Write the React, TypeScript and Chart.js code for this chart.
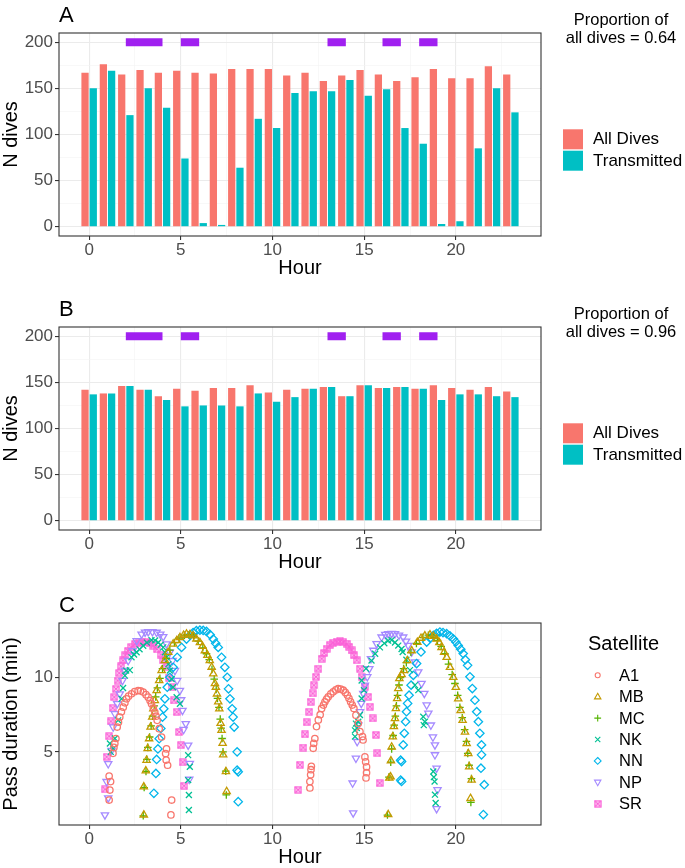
import React, { useEffect, useRef } from "react";
import { Chart, registerables } from "chart.js";

Chart.register(...registerables);

const FONT = "'Liberation Sans', Arial, Helvetica, sans-serif";

// ---------- Panels A & B: dives per hour ----------
const hours = [0, 1, 2, 3, 4, 5, 6, 7, 8, 9, 10, 11, 12, 13, 14, 15, 16, 17, 18, 19, 20, 21, 22, 23];
const allDivesA = [167, 176, 165, 170, 167, 169, 167, 166, 171, 171, 171, 164, 167, 158, 164, 170, 165, 158, 162, 171, 161, 161, 174, 165];
const transmittedA = [150, 169, 121, 150, 129, 74, 4, 2, 64, 117, 107, 145, 147, 147, 159, 142, 149, 107, 90, 3, 6, 85, 150, 124];
const allDivesB = [142, 138, 146, 142, 135, 143, 141, 144, 144, 147, 139, 142, 143, 145, 135, 147, 144, 145, 143, 147, 144, 142, 145, 140];
const transmittedB = [137, 138, 146, 142, 131, 124, 125, 125, 124, 138, 129, 134, 143, 145, 135, 147, 144, 145, 143, 131, 137, 137, 135, 134];
const proportionA = "0.64";
const proportionB = "0.96";
// purple periods drawn at the top of panels A and B
const periodStarts = [2, 5, 13, 16, 18];
const periodEnds = [4, 6, 14, 17, 19];
const periodLevel = 200;

// ---------- Panel C: satellite passes [hour, minutes] ----------
const a1Passes = [
  [1.09, 1.76], [1.13, 2.43], [1.17, 3.0], [1.09, 3.37], [1.3, 4.9], [1.35, 5.3], [1.4, 5.56], [1.46, 5.9], [1.53, 6.67], [1.6, 7.0],
  [1.67, 7.34], [1.76, 7.7], [1.86, 8.01], [1.95, 8.3], [2.04, 8.57], [2.15, 8.75], [2.31, 8.91], [2.48, 9.05], [2.67, 9.13], [2.8, 9.1],
  [2.95, 9.02], [3.1, 8.85], [3.22, 8.68], [3.32, 8.45], [3.4, 8.24], [3.5, 7.95], [3.58, 7.68], [3.65, 7.4], [3.71, 7.12], [3.82, 6.56],
  [3.95, 6.0], [4.17, 4.89], [4.2, 4.45], [4.28, 4.1], [4.22, 5.2], [4.5, 1.76], [4.46, 0.76],
  [12.04, 2.57], [12.04, 3.0], [12.08, 3.46], [12.1, 3.8], [12.12, 4.03], [12.22, 5.24], [12.25, 5.57], [12.31, 5.9], [12.4, 6.7], [12.5, 7.15],
  [12.6, 7.5], [12.68, 7.92], [12.78, 8.15], [12.86, 8.37], [12.95, 8.55], [13.04, 8.7], [13.18, 8.9], [13.31, 9.04], [13.45, 9.17], [13.58, 9.26],
  [13.72, 9.22], [13.86, 9.15], [13.97, 9.0], [14.08, 8.82], [14.17, 8.6], [14.26, 8.37], [14.35, 8.15], [14.44, 7.92], [14.55, 7.47], [14.68, 6.92],
  [14.77, 6.36], [14.91, 6.03], [14.94, 5.8], [15.04, 4.66], [15.08, 4.33], [15.13, 3.99], [15.13, 3.6], [15.1, 3.25],
];
const mbPasses = [
  [2.98, 0.76], [2.98, 2.65], [3.09, 3.73], [3.13, 4.44], [3.19, 5.22], [3.27, 5.89], [3.35, 6.67], [3.44, 7.34], [3.5, 7.9], [3.58, 8.46],
  [3.68, 9.13], [3.82, 9.8], [3.95, 10.47], [4.13, 11.14], [4.31, 11.7], [4.58, 12.26], [4.78, 12.5], [4.95, 12.7], [5.15, 12.85], [5.31, 12.93],
  [5.5, 12.9], [5.67, 12.81], [5.85, 12.6], [6.04, 12.36], [6.18, 12.1], [6.31, 11.81], [6.45, 11.5], [6.58, 11.14], [6.68, 10.7], [6.77, 10.25],
  [6.86, 9.6], [6.91, 9.35], [6.97, 8.9], [7.04, 8.37], [7.1, 7.9], [7.17, 6.92], [7.22, 6.45], [7.28, 5.58], [7.31, 4.8], [7.46, 3.68], [7.5, 2.34],
  [16.31, 0.78], [16.37, 3.24], [16.44, 3.32], [16.46, 4.4], [16.5, 5.33], [16.56, 6.02], [16.62, 6.7], [16.68, 7.25], [16.73, 7.92], [16.8, 8.59],
  [16.86, 9.26], [16.92, 9.93], [17.04, 10.2], [17.17, 10.47], [17.35, 11.14], [17.59, 11.81], [17.9, 12.37], [18.1, 12.65], [18.31, 12.81], [18.59, 12.88],
  [18.78, 12.78], [18.95, 12.59], [19.1, 12.35], [19.22, 12.03], [19.36, 11.7], [19.5, 11.36], [19.68, 10.69], [19.86, 10.02], [20.0, 9.35], [20.13, 8.57],
  [20.26, 7.79], [20.37, 7.12], [20.5, 6.34], [20.59, 5.56], [20.68, 4.89], [20.73, 4.0], [20.86, 3.1], [20.8, 1.87],
];
const mcPasses = [
  [2.95, 0.7], [3.0, 2.6], [3.1, 3.68], [3.15, 4.5], [3.2, 5.3], [3.3, 6.0], [3.38, 6.75], [3.46, 7.4], [3.55, 8.1], [3.63, 8.7],
  [3.72, 9.3], [3.86, 9.95], [4.0, 10.6], [4.2, 11.3], [4.4, 11.85], [4.65, 12.35], [4.9, 12.65], [5.2, 12.85], [5.45, 12.88], [5.7, 12.75],
  [5.95, 12.45], [6.2, 12.0], [6.4, 11.6], [6.55, 11.2], [6.7, 10.55], [6.82, 9.9], [6.93, 9.2], [7.0, 8.6], [7.08, 8.0], [7.15, 7.2],
  [7.2, 6.6], [7.25, 5.9], [7.3, 5.0], [7.45, 3.7], [7.48, 2.1],
  [16.27, 0.75], [16.35, 3.3], [16.45, 4.3], [16.5, 5.2], [16.58, 6.1], [16.64, 6.8], [16.7, 7.4], [16.76, 8.1], [16.82, 8.8], [16.9, 9.5],
  [16.98, 10.0], [17.15, 10.6], [17.3, 11.0], [17.55, 11.7], [17.85, 12.3], [18.2, 12.7], [18.5, 12.85], [18.8, 12.7], [19.0, 12.5], [19.2, 12.1],
  [19.4, 11.6], [19.6, 10.9], [19.8, 10.2], [19.95, 9.6], [20.1, 8.8], [20.22, 8.0], [20.35, 7.3], [20.48, 6.5], [20.58, 5.7], [20.65, 4.9],
  [20.72, 4.1], [20.85, 3.2], [20.82, 1.6],
];
const nkPasses = [
  [1.13, 5.56], [1.18, 5.0], [1.31, 5.22], [1.4, 5.9], [1.58, 7.12], [1.77, 8.57], [1.85, 9.3], [1.95, 10.13], [2.02, 10.47], [2.22, 10.5],
  [2.31, 11.36], [2.45, 11.55], [2.59, 11.7], [2.75, 11.9], [2.95, 12.14], [3.15, 12.35], [3.4, 12.52], [3.6, 12.5], [3.77, 12.36], [3.9, 12.2],
  [4.04, 12.03], [4.13, 11.7], [4.22, 11.36], [4.32, 10.9], [4.4, 10.47], [4.5, 9.9], [4.58, 9.35], [4.77, 8.68], [4.95, 8.24],
  [5.4, 4.78], [5.49, 4.0], [5.4, 3.1], [5.44, 2.1], [5.44, 1.09],
  [14.5, 6.03], [14.5, 6.45], [14.55, 6.9], [14.6, 6.6], [14.68, 7.03], [14.77, 7.48], [14.86, 8.59], [14.86, 9.8], [14.99, 9.15], [15.1, 10.6],
  [15.4, 11.14], [15.6, 11.6], [15.86, 12.03], [16.1, 12.3], [16.31, 12.48], [16.5, 12.52], [16.68, 12.36], [16.86, 12.15], [17.04, 11.92], [17.1, 11.72],
  [17.3, 11.2], [17.5, 10.5], [17.77, 9.49], [17.95, 9.15], [18.22, 7.37], [18.31, 7.03], [18.25, 6.8], [18.77, 3.68], [18.84, 3.0], [18.86, 2.12],
  [18.9, 1.56], [18.8, 3.3],
];
const nnPasses = [
  [3.53, 2.21], [3.64, 3.55], [3.68, 4.49], [3.75, 5.2], [3.82, 5.89], [3.91, 6.58], [4.0, 7.34], [4.07, 7.9], [4.13, 8.57], [4.26, 9.35],
  [4.4, 10.02], [4.58, 10.69], [4.8, 11.36], [5.04, 12.03], [5.31, 12.59], [5.5, 12.85], [5.67, 13.03], [5.85, 13.15], [6.04, 13.19], [6.22, 13.17],
  [6.4, 13.1], [6.6, 12.88], [6.77, 12.59], [6.9, 12.3], [7.04, 12.03], [7.22, 11.36], [7.4, 10.69], [7.53, 10.02], [7.6, 9.24], [7.68, 8.57],
  [7.8, 7.9], [7.85, 7.34], [7.91, 6.67], [8.07, 5.0], [8.07, 3.77], [8.13, 3.66], [8.13, 1.65],
  [16.99, 3.1], [17.04, 3.01], [16.99, 4.44], [17.04, 4.35], [17.13, 5.47], [17.19, 6.25], [17.26, 7.03], [17.31, 7.7], [17.37, 8.26], [17.45, 8.81],
  [17.56, 9.49], [17.68, 10.15], [17.86, 10.94], [18.1, 11.72], [18.41, 12.39], [18.6, 12.65], [18.77, 12.83], [18.95, 12.98], [19.13, 13.06], [19.3, 13.03],
  [19.5, 12.95], [19.68, 12.8], [19.86, 12.61], [20.0, 12.4], [20.13, 12.16], [20.27, 11.9], [20.4, 11.61], [20.52, 11.2], [20.64, 10.82], [20.77, 10.05],
  [20.9, 9.26], [21.04, 8.48], [21.14, 7.7], [21.23, 7.03], [21.31, 6.25], [21.4, 5.47], [21.4, 4.8], [21.37, 3.9], [21.55, 2.79], [21.5, 0.78],
];
const npPasses = [
  [0.86, 0.76], [0.95, 3.0], [1.04, 1.9], [1.04, 4.2], [1.22, 5.1], [1.31, 6.67], [1.4, 7.56], [1.53, 8.24], [1.67, 8.9], [1.82, 9.8],
  [1.95, 10.47], [2.13, 11.14], [2.37, 11.81], [2.59, 12.48], [2.86, 12.92], [3.05, 13.05], [3.22, 13.08], [3.45, 13.08], [3.68, 13.04], [3.88, 12.92],
  [4.04, 12.75], [4.22, 12.26], [4.4, 11.7], [4.55, 11.14], [4.68, 10.47], [4.8, 9.8], [4.95, 9.13], [5.02, 8.5], [5.09, 7.79], [5.15, 6.5],
  [5.27, 6.9], [5.4, 5.45], [5.49, 4.22], [5.46, 3.15],
  [14.4, 0.89], [14.37, 2.9], [14.55, 4.57], [14.62, 5.69], [14.68, 6.8], [14.77, 7.7], [14.84, 8.26], [14.95, 8.93], [15.04, 9.49], [15.17, 10.05],
  [15.28, 10.6], [15.37, 11.27], [15.5, 11.83], [15.68, 12.28], [15.95, 12.72], [16.15, 12.9], [16.31, 12.95], [16.5, 12.97], [16.68, 12.95], [16.9, 12.85],
  [17.13, 12.72], [17.28, 12.45], [17.4, 12.16], [17.59, 11.72], [17.77, 11.05], [17.95, 10.38], [18.13, 9.6], [18.28, 8.93], [18.41, 8.15], [18.5, 7.6],
  [18.64, 6.8], [18.75, 6.0], [18.86, 5.47], [18.86, 4.8], [18.95, 3.9], [19.0, 2.45], [18.95, 1.18],
];
const srPasses = [
  [0.87, 2.48], [0.95, 4.66], [1.09, 6.05], [1.18, 7.05], [1.28, 7.95], [1.37, 8.68], [1.46, 9.24], [1.55, 9.8], [1.64, 10.3], [1.73, 10.75],
  [1.84, 11.15], [1.97, 11.5], [2.12, 11.8], [2.3, 12.05], [2.5, 12.25], [2.7, 12.35], [2.9, 12.38], [3.1, 12.36], [3.3, 12.3], [3.5, 12.15],
  [3.7, 11.9], [3.9, 11.55], [4.05, 11.15], [4.22, 10.7], [4.35, 10.0], [4.5, 9.35], [4.62, 8.46], [4.77, 7.68], [4.91, 6.34], [5.0, 5.45],
  [5.1, 4.3], [5.18, 2.72],
  [11.4, 2.45], [11.5, 4.13], [11.68, 5.29], [11.77, 6.18], [11.86, 6.99], [12.0, 7.7], [12.08, 8.37], [12.19, 8.93], [12.26, 9.48], [12.37, 10.05],
  [12.5, 10.6], [12.68, 11.27], [12.82, 11.65], [12.95, 11.94], [13.12, 12.18], [13.31, 12.34], [13.5, 12.42], [13.68, 12.43], [13.86, 12.38], [14.04, 12.28],
  [14.18, 12.08], [14.31, 11.83], [14.45, 11.5], [14.59, 11.16], [14.77, 10.6], [14.86, 10.05], [15.04, 9.38], [15.22, 8.7], [15.31, 8.04], [15.46, 7.25],
  [15.64, 6.14], [15.72, 4.91], [15.84, 2.9],
];
const satelliteNames = ["A1", "MB", "MC", "NK", "NN", "NP", "SR"];
const satelliteColors = ["#F8766D", "#C49A00", "#53B400", "#00C094", "#00B6EB", "#A58AFF", "#FB61D7"];
const satellitePasses = [a1Passes, mbPasses, mcPasses, nkPasses, nnPasses, npPasses, srPasses];

// ---------- axis ticks ----------
const xTickValues = [0, 2.5, 5, 7.5, 10, 12.5, 15, 17.5, 20, 22.5];
const xTickLabels = ["0", "", "5", "", "10", "", "15", "", "20", ""];
const barTickValues = [0, 25, 50, 75, 100, 125, 150, 175, 200];
const barTickLabels = ["0", "", "50", "", "100", "", "150", "", "200"];
const passTickValues = [2.5, 5, 7.5, 10, 12.5];
const passTickLabels = ["", "5", "", "10", ""];

const X_MIN = -1.645;
const X_MAX = 24.645;

function makeScale(axis: string, min: number, max: number, values: number[], labels: string[], title: string, fit: number) {
  const labelOf = (v: number) => {
    const i = values.indexOf(v);
    return i >= 0 ? labels[i] : "";
  };
  return {
    type: "linear",
    min,
    max,
    offset: false,
    afterBuildTicks: (s: any) => {
      s.ticks = values.map((v) => ({ value: v }));
    },
    afterFit: (s: any) => {
      if (axis === "x") s.height = fit;
      else s.width = fit;
    },
    ticks: {
      autoSkip: false,
      maxRotation: 0,
      minRotation: 0,
      padding: axis === "x" ? 0 : 2,
      color: "#4D4D4D",
      font: { family: FONT, size: 17 },
      callback: (v: any) => labelOf(Number(v)),
    },
    grid: {
      offset: false,
      color: (c: any) => (labelOf(c.tick?.value) ? "#EBEBEB" : "#F4F4F4"),
      lineWidth: (c: any) => (labelOf(c.tick?.value) ? 1.1 : 0.6),
      tickColor: (c: any) => (labelOf(c.tick?.value) ? "#333333" : "rgba(0,0,0,0)"),
      tickWidth: 1.1,
      tickLength: 4,
      drawTicks: true,
    },
    border: { display: false },
    title: {
      display: true,
      text: title,
      color: "#000000",
      font: { family: FONT, size: 20, lineHeight: 1 },
      padding: axis === "x" ? { top: 0, bottom: 1 } : { top: 1, bottom: 0 },
    },
  };
}

function makeSquareCross(color: string) {
  const c = document.createElement("canvas");
  c.width = 8;
  c.height = 8;
  const g = c.getContext("2d")!;
  g.strokeStyle = color;
  g.lineWidth = 1.3;
  g.strokeRect(1, 1, 6, 6);
  g.beginPath();
  g.moveTo(1, 1);
  g.lineTo(7, 7);
  g.moveTo(7, 1);
  g.lineTo(1, 7);
  g.stroke();
  return c;
}

function drawSymbol(ctx: CanvasRenderingContext2D, idx: number, x: number, y: number, color: string, img: HTMLCanvasElement) {
  ctx.save();
  ctx.strokeStyle = color;
  ctx.lineWidth = 1.1;
  ctx.beginPath();
  if (idx === 0) {
    ctx.arc(x, y, 2.5, 0, Math.PI * 2);
  } else if (idx === 1) {
    ctx.moveTo(x, y - 3.4);
    ctx.lineTo(x + 3.2, y + 2.2);
    ctx.lineTo(x - 3.2, y + 2.2);
    ctx.closePath();
  } else if (idx === 2) {
    ctx.moveTo(x - 3.4, y);
    ctx.lineTo(x + 3.4, y);
    ctx.moveTo(x, y - 3.4);
    ctx.lineTo(x, y + 3.4);
  } else if (idx === 3) {
    ctx.moveTo(x - 2.6, y - 2.6);
    ctx.lineTo(x + 2.6, y + 2.6);
    ctx.moveTo(x + 2.6, y - 2.6);
    ctx.lineTo(x - 2.6, y + 2.6);
  } else if (idx === 4) {
    ctx.moveTo(x, y - 3.4);
    ctx.lineTo(x + 3.4, y);
    ctx.lineTo(x, y + 3.4);
    ctx.lineTo(x - 3.4, y);
    ctx.closePath();
  } else if (idx === 5) {
    ctx.moveTo(x, y + 3.4);
    ctx.lineTo(x + 3.2, y - 2.2);
    ctx.lineTo(x - 3.2, y - 2.2);
    ctx.closePath();
  } else {
    ctx.drawImage(img, x - 4, y - 4);
  }
  ctx.stroke();
  ctx.restore();
}

function decorPlugin(letter: string, kind: string, proportion: string, img?: HTMLCanvasElement) {
  return {
    id: "decor" + letter,
    afterDatasetsDraw(chart: any) {
      const { ctx, chartArea: a } = chart;
      ctx.save();
      // panel border
      ctx.strokeStyle = "#333333";
      ctx.lineWidth = 1.1;
      ctx.strokeRect(a.left, a.top, a.right - a.left, a.bottom - a.top);
      // panel letter
      ctx.fillStyle = "#000000";
      ctx.font = `22px ${FONT}`;
      ctx.textAlign = "left";
      ctx.textBaseline = "alphabetic";
      ctx.fillText(letter, a.left, a.top - 11.5);
      if (kind === "bars") {
        ctx.font = `16.5px ${FONT}`;
        ctx.textAlign = "center";
        ctx.textBaseline = "middle";
        ctx.fillText("Proportion of", 621, a.top - 12.3);
        ctx.fillText("all dives = " + proportion, 621, a.top + 5.4);
        const keys = [
          ["All Dives", "#F8766D"],
          ["Transmitted", "#00BFC4"],
        ];
        ctx.font = `17px ${FONT}`;
        ctx.textAlign = "left";
        keys.forEach(([label, color], i) => {
          const ky = a.top + 96.3 + i * 21.4;
          ctx.fillStyle = color;
          ctx.fillRect(a.right + 22, ky, 20, 20);
          ctx.fillStyle = "#000000";
          ctx.fillText(label, a.right + 52, ky + 10.5);
        });
      } else {
        ctx.font = `20px ${FONT}`;
        ctx.textAlign = "left";
        ctx.textBaseline = "middle";
        ctx.fillText("Satellite", 588, a.top + 21);
        ctx.font = `16.5px ${FONT}`;
        satelliteNames.forEach((name, i) => {
          const y = a.top + 52.3 + i * 21.4;
          drawSymbol(ctx, i, 597.7, y, satelliteColors[i], img!);
          ctx.fillStyle = "#000000";
          ctx.fillText(name, 619, y + 1);
        });
      }
      ctx.restore();
    },
  };
}

function barConfig(letter: string, all: number[], trans: number[], proportion: string) {
  const periodData: any[] = [];
  periodStarts.forEach((s, i) => {
    periodData.push({ x: s, y: periodLevel }, { x: periodEnds[i], y: periodLevel }, { x: periodEnds[i], y: null });
  });
  return {
    type: "bar",
    data: {
      datasets: [
        {
          type: "bar",
          label: "All Dives",
          data: hours.map((h, i) => ({ x: h, y: all[i] })),
          backgroundColor: "#F8766D",
          borderWidth: 0,
          categoryPercentage: 0.9,
          barPercentage: 0.88,
          order: 2,
        },
        {
          type: "bar",
          label: "Transmitted",
          data: hours.map((h, i) => ({ x: h, y: trans[i] })),
          backgroundColor: "#00BFC4",
          borderWidth: 0,
          categoryPercentage: 0.9,
          barPercentage: 0.88,
          order: 2,
        },
        {
          type: "line",
          label: "Periods",
          data: periodData,
          borderColor: "#A020F0",
          borderWidth: 8,
          borderCapStyle: "butt",
          pointRadius: 0,
          spanGaps: false,
          fill: false,
          order: 0,
        },
      ],
    },
    options: {
      animation: false,
      responsive: false,
      maintainAspectRatio: false,
      devicePixelRatio: 1,
      layout: { padding: { top: 33, right: 144, bottom: 15, left: 0 } },
      plugins: { legend: { display: false }, tooltip: { enabled: false } },
      scales: {
        x: makeScale("x", X_MIN, X_MAX, xTickValues, xTickLabels, "Hour", 43),
        y: makeScale("y", -10, 210, barTickValues, barTickLabels, "N dives", 59),
      },
    },
    plugins: [decorPlugin(letter, "bars", proportion)],
  };
}

function scatterConfig() {
  const img = makeSquareCross("#FB61D7");
  const styles = ["circle", "triangle", "cross", "crossRot", "rectRot", "triangle", img];
  const radii = [3.2, 4.2, 3.8, 4.2, 4.2, 4.2, 4];
  const datasets = satelliteNames.map((name, i) => ({
    label: name,
    data: satellitePasses[i].map(([h, m]) => ({ x: h, y: m })),
    pointStyle: styles[i],
    pointRadius: radii[i],
    pointRotation: i === 5 ? 180 : 0,
    pointBorderWidth: 1.3,
    pointBorderColor: satelliteColors[i],
    pointBackgroundColor: "rgba(0,0,0,0)",
    showLine: false,
  }));
  return {
    type: "scatter",
    data: { datasets },
    options: {
      animation: false,
      responsive: false,
      maintainAspectRatio: false,
      devicePixelRatio: 1,
      layout: { padding: { top: 33, right: 144, bottom: 0, left: 0 } },
      plugins: { legend: { display: false }, tooltip: { enabled: false } },
      scales: {
        x: makeScale("x", X_MIN, X_MAX, xTickValues, xTickLabels, "Hour", 43),
        y: makeScale("y", 0.08, 13.67, passTickValues, passTickLabels, "Pass duration (min)", 59),
      },
    },
    plugins: [decorPlugin("C", "sat", "", img)],
  };
}

function ChartCanvas({ build, top, height }: { build: () => any; top: number; height: number }) {
  const ref = useRef<HTMLCanvasElement>(null);
  useEffect(() => {
    const chart = new Chart(ref.current as HTMLCanvasElement, build());
    return () => chart.destroy();
  }, []);
  return (
    <canvas
      ref={ref}
      width={685}
      height={height}
      style={{ position: "absolute", left: 0, top, width: 685, height, display: "block" }}
    />
  );
}

export default function App() {
  Chart.defaults.font.family = FONT;
  return (
    <div style={{ position: "absolute", left: 0, top: 0, width: 685, height: 868, background: "#ffffff", overflow: "hidden" }}>
      <ChartCanvas top={0} height={294} build={() => barConfig("A", allDivesA, transmittedA, proportionA)} />
      <ChartCanvas top={294} height={294} build={() => barConfig("B", allDivesB, transmittedB, proportionB)} />
      <ChartCanvas top={590} height={278} build={() => scatterConfig()} />
    </div>
  );
}
